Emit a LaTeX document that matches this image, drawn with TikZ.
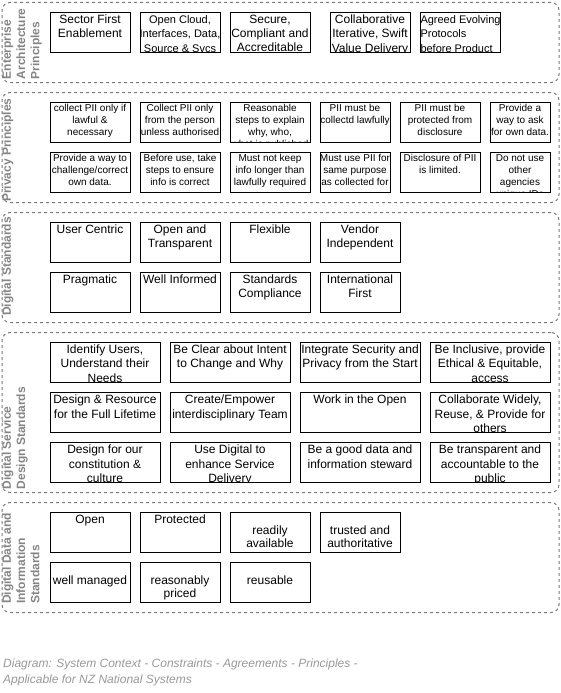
\documentclass[tikz,border=0pt]{standalone}
\usepackage{fontspec}
\setmainfont{Liberation Sans}
\usepackage{xcolor}
\definecolor{LaneGray}{HTML}{7A7A7A}
\definecolor{LabelGray}{HTML}{858585}
\definecolor{NoteGray}{HTML}{999999}
\usepackage{tikz}
\usetikzlibrary{positioning}

\begin{document}
\begin{tikzpicture}[x=1pt,y=-1pt,node distance=10pt and 10pt,
lane/.style={draw=LaneGray,line width=1pt,dash pattern=on 3pt off 3pt,rounded corners=8pt,minimum width=557pt,inner sep=0pt,outer sep=0pt,anchor=north west},
lanelabel/.style={rotate=90,anchor=north west,inner sep=0pt,align=left,text=LabelGray,font=\fontsize{12}{14.3}\selectfont\bfseries},
box/.style={draw=black,fill=white,line width=1pt,minimum width=80pt,minimum height=40pt,inner sep=0pt,outer sep=0pt},
intext/.style={draw=none,fill=none,minimum width=0pt,minimum height=0pt,inner sep=0pt,outer sep=0pt,text=black},
toptext/.style={path picture={\node[intext,anchor=north,align=center,font=\fontsize{12}{14.2}\selectfont] at ([yshift=-2.6pt]path picture bounding box.north) {#1};}},
smalltext/.style={path picture={\node[intext,anchor=north,align=center,font=\fontsize{11}{14.4}\selectfont] at ([yshift=-2.8pt]path picture bounding box.north) {#1};}},
lefttext/.style={path picture={\node[intext,anchor=north west,align=left,font=\fontsize{11}{14.4}\selectfont] at ([xshift=0.5pt,yshift=-2.8pt]path picture bounding box.north west) {#1};}},
privtext/.style={path picture={\node[intext,anchor=north,align=center,font=\fontsize{10}{12}\selectfont] at ([yshift=-1.8pt]path picture bounding box.north) {#1};}},
midtext/.style={path picture={\node[intext,anchor=north,align=center,font=\fontsize{12}{13}\selectfont] at ([yshift=-12.8pt]path picture bounding box.north) {#1};}}]
\useasboundingbox (0,0) rectangle (561,693);

% enterprise architecture principles
\node[lane,minimum height=80pt] (ealane) at (2,2.5) {};
\node[lanelabel] (ealabel) at (2,79.5) {Enterprise\\Architecture\\Principles};
\node[box,anchor=north west,toptext={Sector First\\Enablement}] (sector) at (50,12.5) {};
\node[box,right=of sector,smalltext={Open Cloud,\\Interfaces, Data,\\Source \& Svcs}] (opencloud) {};
\node[box,right=of opencloud,toptext={Secure,\\Compliant and\\Accreditable}] (secure) {};
\node[box,right=20pt of secure,toptext={Collaborative\\Iterative, Swift\\Value Delivery}] (collab) {};
\node[box,right=of collab,lefttext={Agreed Evolving\\Protocols\\before Product}] (agreed) {};

% privacy principles
\node[lane,minimum height=110pt] (pplane) at (2,92.5) {};
\node[lanelabel] (pplabel) at (2,202) {Privacy Principles};
\node[box,anchor=north west,privtext={collect PII only if\\lawful \&\\necessary}] (lawful) at (50,102.5) {};
\node[box,right=of lawful,privtext={Collect PII only\\from the person\\unless authorised}] (source) {};
\node[box,right=of source,privtext={Reasonable\\steps to explain\\why, who,\\what is published}] (explain) {};
\node[box,right=of explain,minimum width=70pt,privtext={PII must be\\collectd lawfully}] (collect) {};
\node[box,right=of collect,privtext={PII must be\\protected from\\disclosure}] (protect) {};
\node[box,right=of protect,minimum width=60pt,privtext={Provide a\\way to ask\\for own data.}] (access) {};
\node[box,below=of lawful,privtext={Provide a way to\\challenge/correct\\own data.}] (correct) {};
\node[box,right=of correct,privtext={Before use, take\\steps to ensure\\info is correct}] (accuracy) {};
\node[box,right=of accuracy,privtext={Must not keep\\info longer than\\lawfully required}] (retention) {};
\node[box,right=of retention,minimum width=70pt,privtext={Must use PII for\\same purpose\\as collected for}] (purpose) {};
\node[box,right=of purpose,privtext={Disclosure of PII\\is limited.}] (disclose) {};
\node[box,right=of disclose,minimum width=60pt,privtext={Do not use\\other\\agencies\\unique IDs}] (uniqueid) {};

% digital standards
\node[lane,minimum height=110pt] (dslane) at (2,212.5) {};
\node[lanelabel] (dslabel) at (2,316) {Digital Standards};
\node[box,anchor=north west,toptext={User Centric}] (usercentric) at (50,222.5) {};
\node[box,right=of usercentric,toptext={Open and\\Transparent}] (transparent) {};
\node[box,right=of transparent,toptext={Flexible}] (flexible) {};
\node[box,right=of flexible,toptext={Vendor\\Independent}] (vendor) {};
\node[box,below=of usercentric,toptext={Pragmatic}] (pragmatic) {};
\node[box,right=of pragmatic,toptext={Well Informed}] (informed) {};
\node[box,right=of informed,toptext={Standards\\Compliance}] (compliance) {};
\node[box,right=of compliance,toptext={International\\First}] (international) {};

% digital service design standards
\node[lane,minimum height=160pt] (sdlane) at (2,332.5) {};
\node[lanelabel] (sdlabel) at (2,489.5) {Digital Service\\Design Standards};
\node[box,anchor=north west,minimum width=110pt,toptext={Identify Users,\\Understand their\\Needs}] (users) at (50,342.5) {};
\node[box,right=of users,minimum width=120pt,toptext={Be Clear about Intent\\to Change and Why}] (intent) {};
\node[box,right=of intent,minimum width=120pt,toptext={Integrate Security and\\Privacy from the Start}] (security) {};
\node[box,right=of security,minimum width=120pt,toptext={Be Inclusive, provide\\Ethical \& Equitable,\\access}] (inclusive) {};
\node[box,below=of users,minimum width=110pt,toptext={Design \& Resource\\for the Full Lifetime}] (lifetime) {};
\node[box,right=of lifetime,minimum width=120pt,toptext={Create/Empower\\interdisciplinary Team}] (team) {};
\node[box,right=of team,minimum width=120pt,toptext={Work in the Open}] (workopen) {};
\node[box,right=of workopen,minimum width=120pt,toptext={Collaborate Widely,\\Reuse, \& Provide for\\others}] (reuse) {};
\node[box,below=of lifetime,minimum width=110pt,toptext={Design for our\\constitution \&\\culture}] (culture) {};
\node[box,right=of culture,minimum width=120pt,toptext={Use Digital to\\enhance Service\\Delivery}] (delivery) {};
\node[box,right=of delivery,minimum width=120pt,toptext={Be a good data and\\information steward}] (steward) {};
\node[box,right=of steward,minimum width=120pt,toptext={Be transparent and\\accountable to the\\public}] (accountable) {};

% digital data and information standards
\node[lane,minimum height=110pt] (ddlane) at (2,502.5) {};
\node[lanelabel] (ddlabel) at (2,604) {Digital Data and\\Information\\Standards};
\node[box,anchor=north west,toptext={Open}] (opendata) at (50,512.5) {};
\node[box,right=of opendata,toptext={Protected}] (protected) {};
\node[box,right=of protected,midtext={readily\\available}] (available) {};
\node[box,right=of available,midtext={trusted and\\authoritative}] (trusted) {};
\node[box,below=of opendata,midtext={well managed}] (managed) {};
\node[box,right=of managed,midtext={reasonably\\priced}] (priced) {};
\node[box,right=of priced,midtext={reusable}] (reusable) {};

% caption
\node[anchor=north west,inner sep=0pt,align=left,text=NoteGray,font=\fontsize{12}{15.5}\selectfont\itshape] (caption) at (3,659) {Diagram: System Context - Constraints - Agreements - Principles -\\Applicable for NZ National Systems};
\end{tikzpicture}
\end{document}
